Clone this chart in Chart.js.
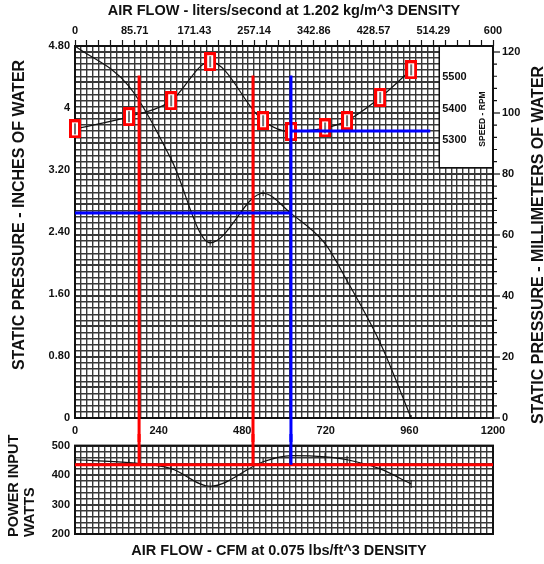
<!DOCTYPE html>
<html>
<head>
<meta charset="utf-8">
<script src="https://cdn.jsdelivr.net/npm/chart.js@4.4.1/dist/chart.umd.min.js"></script>
<style>
  html, body { margin: 0; padding: 0; background: #fff; }
  #wrap { position: relative; width: 544px; height: 564px; overflow: hidden; }
  canvas { position: absolute; left: 0; }
  #main { top: 0; }
  #power { top: 434px; }
</style>
</head>
<body>
<div id="wrap">
  <canvas id="main" width="544" height="442"></canvas>
  <canvas id="power" width="544" height="130"></canvas>
</div>
<script>
// measured points, air flow in CFM
const flows = [0, 155, 276, 388, 540, 620, 718, 781, 876, 965];
const pressure = [4.8, 4.28, 3.34, 2.26, 2.9, 2.64, 2.25, 1.77, 0.97, 0];     // in. of water
const speed = [5335, 5374, 5425, 5550, 5361, 5326, 5338, 5361, 5435, 5524];  // rpm
const power = [452, 442, 422, 362, 445, 466, 462, 452, 421, 370];            // watts

// operating point lines
const redFlows = [184, 511];
const blueFlow = 620;
const markTop = 4.42;
const opPressure = 2.645;
const opSpeed = 5328;
const opPower = 435;
const speedLineEnd = 1020;

// tick labels
const cfmLabels = ["0", "240", "480", "720", "960", "1200"];
const lpsLabels = ["0", "85.71", "171.43", "257.14", "342.86", "428.57", "514.29", "600"];
const inchTicks = [0, 0.8, 1.6, 2.4, 3.2, 4, 4.8];
const inchLabels = ["0", "0.80", "1.60", "2.40", "3.20", "4", "4.80"];
const rpmLabels = [5500, 5400, 5300];

const black = "#111";
const gridColor = "#383838";
const family = "'Liberation Sans', Arial, sans-serif";
const tickFont = { family: family, size: 11, weight: "bold" };

// speed legend box (top right, no grid)
const boxFlow = 61 * 1200 / 70;
const boxMm = 82;

function pts(xs, ys) {
    return xs.map((x, i) => ({ x: x, y: ys[i] }));
}

function seg(x1, y1, x2, y2) {
    return [{ x: x1, y: y1 }, { x: x2, y: y2 }];
}

// grid cells: n equal steps from min to max
function cells(n, min, max) {
    return s => {
        s.ticks = [];
        for (let i = 0; i <= n; i++) s.ticks.push({ value: min + i * (max - min) / n });
    };
}

function makeSquare() {
    const c = document.createElement("canvas");
    c.width = 12;
    c.height = 19;
    const g = c.getContext("2d");
    g.fillStyle = "#fff";
    g.fillRect(1.5, 1.5, 9, 16);
    g.strokeStyle = "#ff0000";
    g.lineWidth = 3;
    g.strokeRect(1.5, 1.5, 9, 16);
    g.strokeStyle = black;
    g.lineWidth = 1.2;
    g.beginPath();
    g.moveTo(6, 4);
    g.lineTo(6, 15);
    g.stroke();
    return c;
}

function vText(ctx, text, x, y, font, align) {
    ctx.save();
    ctx.translate(x, y);
    ctx.rotate(-Math.PI / 2);
    ctx.font = font;
    ctx.fillStyle = black;
    ctx.textAlign = align || "center";
    ctx.textBaseline = "middle";
    ctx.fillText(text, 0, 0);
    ctx.restore();
}

const mainPlugin = {
    id: "mainExtras",
    beforeDatasetsDraw(chart) {
        const { ctx, chartArea, scales } = chart;
        const left = scales.x.getPixelForValue(boxFlow);
        const bottom = scales.mm.getPixelForValue(boxMm);
        ctx.save();
        ctx.fillStyle = "#fff";
        ctx.fillRect(left, chartArea.top, chartArea.right - left, bottom - chartArea.top);
        ctx.strokeStyle = black;
        ctx.lineWidth = 2;
        ctx.strokeRect(chartArea.left, chartArea.top, chartArea.right - chartArea.left, chartArea.bottom - chartArea.top);
        ctx.lineWidth = 1.5;
        ctx.beginPath();
        ctx.moveTo(left, chartArea.top);
        ctx.lineTo(left, bottom);
        ctx.lineTo(chartArea.right, bottom);
        ctx.stroke();

        ctx.font = "bold 11px " + family;
        ctx.fillStyle = black;
        ctx.textAlign = "left";
        ctx.textBaseline = "middle";
        rpmLabels.forEach(r => ctx.fillText(String(r), left + 3, scales.rpm.getPixelForValue(r)));
        ctx.restore();

        vText(ctx, "SPEED - RPM", 483, 119, "bold 8.5px " + family);

        // short minor ticks on the millimetre axis
        ctx.save();
        ctx.strokeStyle = black;
        ctx.lineWidth = 1.2;
        ctx.beginPath();
        for (let v = 4; v < 121; v += 4) {
            if (v % 20 === 0) continue;
            const y = scales.mm.getPixelForValue(v);
            ctx.moveTo(chartArea.right, y);
            ctx.lineTo(chartArea.right + 4, y);
        }
        ctx.stroke();
        ctx.restore();
    },
    afterDraw(chart) {
        const ctx = chart.ctx;
        vText(ctx, "STATIC PRESSURE - INCHES OF WATER", 20, 215, "bold 16px " + family);
        vText(ctx, "STATIC PRESSURE - MILLIMETERS OF WATER", 539, 245, "bold 16px " + family);
    }
};

const powerPlugin = {
    id: "powerExtras",
    beforeDatasetsDraw(chart) {
        const { ctx, chartArea } = chart;
        ctx.save();
        ctx.strokeStyle = black;
        ctx.lineWidth = 2;
        ctx.strokeRect(chartArea.left, chartArea.top, chartArea.right - chartArea.left, chartArea.bottom - chartArea.top);
        ctx.restore();
    },
    afterDraw(chart) {
        const ctx = chart.ctx;
        vText(ctx, "POWER INPUT", 14, 103, "bold 14.5px " + family, "left");
        vText(ctx, "WATTS", 30, 103, "bold 14.5px " + family, "left");
        ctx.save();
        ctx.font = "bold 14.5px " + family;
        ctx.fillStyle = black;
        ctx.textAlign = "center";
        ctx.textBaseline = "middle";
        ctx.fillText("AIR FLOW - CFM at 0.075 lbs/ft^3 DENSITY", 279, 117);
        ctx.restore();
    }
};

const square = makeSquare();
const belowAxis = -0.5;
const abovePower = 540;

const lineStyle = (color, width) => ({
    borderColor: color,
    borderWidth: width,
    pointRadius: 0,
    fill: false,
    clip: false,
});

const mainChart = new Chart(document.getElementById("main"), {
    type: "line",
    data: {
        datasets: [
            {
                data: pts(flows, pressure),
                yAxisID: "y",
                borderColor: black,
                borderWidth: 1.2,
                cubicInterpolationMode: "monotone",
                pointStyle: "line",
                rotation: 90,
                pointRadius: flows.map((f, i) => (i === 0 ? 0 : 3)),
                pointBorderColor: black,
                pointBorderWidth: 1,
                order: 3,
            },
            {
                data: pts(flows, speed),
                yAxisID: "rpm",
                borderColor: black,
                borderWidth: 1.2,
                cubicInterpolationMode: "monotone",
                pointStyle: square,
                pointRadius: 6,
                clip: false,
                order: 2,
            },
            { data: seg(redFlows[0], markTop, redFlows[0], belowAxis), yAxisID: "y", ...lineStyle("#ff0000", 3), order: 1 },
            { data: seg(redFlows[1], markTop, redFlows[1], belowAxis), yAxisID: "y", ...lineStyle("#ff0000", 3), order: 1 },
            { data: seg(blueFlow, markTop, blueFlow, belowAxis), yAxisID: "y", ...lineStyle("#0000ff", 3), order: 0 },
            { data: seg(0, opPressure, blueFlow, opPressure), yAxisID: "y", ...lineStyle("#0000ff", 3), order: 0 },
            { data: seg(blueFlow, opSpeed, speedLineEnd, opSpeed), yAxisID: "rpm", ...lineStyle("#0000ff", 3), order: 0 },
        ],
    },
    options: {
        responsive: false,
        animation: false,
        events: [],
        layout: { padding: 0 },
        plugins: { legend: { display: false }, tooltip: { enabled: false } },
        scales: {
            x: {
                type: "linear",
                position: "bottom",
                min: 0,
                max: 1200,
                afterBuildTicks: cells(70, 0, 1200),
                afterFit: s => { s.height = 24; },
                grid: { color: gridColor, lineWidth: 1.4, drawTicks: false },
                border: { display: false },
                ticks: {
                    autoSkip: false,
                    maxRotation: 0,
                    padding: 6,
                    font: tickFont,
                    color: black,
                    callback: (v, i) => (i % 14 === 0 ? cfmLabels[i / 14] : ""),
                },
            },
            x2: {
                type: "linear",
                position: "top",
                min: 0,
                max: 600,
                afterBuildTicks: cells(35, 0, 600),
                afterFit: s => { s.height = 46; },
                grid: { drawOnChartArea: false, drawTicks: true, tickLength: 6, tickColor: black, tickWidth: 1.2 },
                border: { display: false },
                ticks: {
                    autoSkip: false,
                    maxRotation: 0,
                    padding: 2,
                    font: tickFont,
                    color: black,
                    callback: (v, i) => (i % 5 === 0 ? lpsLabels[i / 5] : ""),
                },
                title: {
                    display: true,
                    text: "AIR FLOW - liters/second at 1.202 kg/m^3 DENSITY",
                    font: { family: family, size: 14.5, weight: "bold" },
                    color: black,
                    padding: { top: 2, bottom: 0 },
                },
            },
            y: {
                type: "linear",
                position: "left",
                min: 0,
                max: 4.8,
                afterBuildTicks: s => { s.ticks = inchTicks.map(v => ({ value: v })); },
                afterFit: s => { s.width = 75; },
                grid: { drawOnChartArea: false, drawTicks: false },
                border: { display: false },
                ticks: { padding: 5, font: tickFont, color: black, callback: (v, i) => inchLabels[i] },
            },
            rpm: { type: "linear", axis: "y", position: "right", display: false, min: 4410, max: 5600 },
            mm: {
                type: "linear",
                position: "right",
                min: 0,
                max: 121.92,
                afterBuildTicks: cells(60, 0, 120),
                afterFit: s => { s.width = 51; },
                grid: {
                    color: gridColor,
                    lineWidth: c => (c.tick && c.tick.value % 10 === 0 ? 2 : 1.4),
                    tickLength: 7,
                    tickWidth: 1.2,
                    tickColor: c => (c.tick && c.tick.value % 20 === 0 ? black : "rgba(0,0,0,0)"),
                },
                border: { display: false },
                ticks: {
                    autoSkip: false,
                    padding: 2,
                    font: tickFont,
                    color: black,
                    callback: v => (v % 20 === 0 ? String(v) : ""),
                },
            },
        },
    },
    plugins: [mainPlugin],
});

const powerChart = new Chart(document.getElementById("power"), {
    type: "line",
    data: {
        datasets: [
            {
                data: pts(flows, power),
                borderColor: black,
                borderWidth: 1.2,
                cubicInterpolationMode: "monotone",
                pointStyle: "line",
                rotation: 90,
                pointRadius: flows.map((f, i) => (i === 0 ? 0 : 4)),
                pointBorderColor: black,
                pointBorderWidth: 1,
                order: 3,
            },
            { data: seg(0, opPower, 1200, opPower), ...lineStyle("#ff0000", 3), order: 1 },
            { data: seg(redFlows[0], abovePower, redFlows[0], opPower), ...lineStyle("#ff0000", 3), order: 1 },
            { data: seg(redFlows[1], abovePower, redFlows[1], opPower), ...lineStyle("#ff0000", 3), order: 1 },
            { data: seg(blueFlow, abovePower, blueFlow, opPower), ...lineStyle("#0000ff", 3), order: 0 },
        ],
    },
    options: {
        responsive: false,
        animation: false,
        events: [],
        layout: { padding: { top: 8, right: 51, left: 0, bottom: 0 } },
        plugins: { legend: { display: false }, tooltip: { enabled: false } },
        scales: {
            x: {
                type: "linear",
                position: "bottom",
                min: 0,
                max: 1200,
                afterBuildTicks: cells(70, 0, 1200),
                afterFit: s => { s.height = 30; },
                grid: { color: gridColor, lineWidth: 1.4, drawTicks: false },
                border: { display: false },
                ticks: { display: false },
            },
            y: {
                type: "linear",
                position: "left",
                min: 200,
                max: 500,
                afterBuildTicks: cells(15, 200, 500),
                afterFit: s => { s.width = 75; },
                grid: {
                    color: gridColor,
                    lineWidth: c => (c.tick && c.tick.value % 100 === 0 ? 2 : 1.4),
                    drawTicks: false,
                },
                border: { display: false },
                ticks: {
                    autoSkip: false,
                    padding: 5,
                    font: tickFont,
                    color: black,
                    callback: v => (v % 100 === 0 ? String(v) : ""),
                },
            },
        },
    },
    plugins: [powerPlugin],
});
</script>
</body>
</html>
